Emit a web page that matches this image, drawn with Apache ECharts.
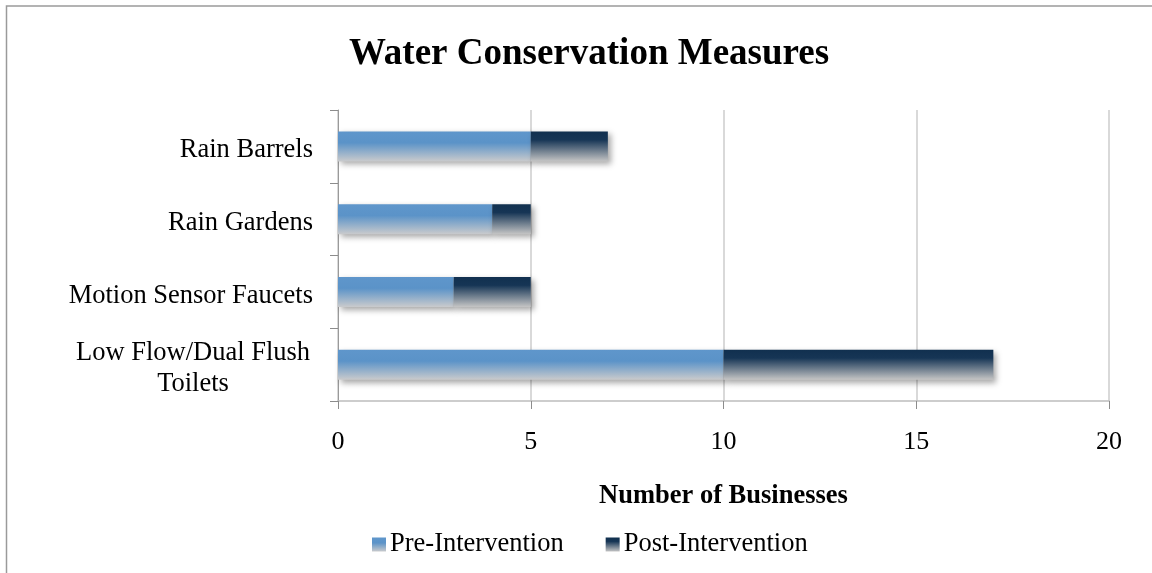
<!DOCTYPE html>
<html>
<head>
<meta charset="utf-8">
<script src="https://cdn.jsdelivr.net/npm/echarts@6/dist/echarts.min.js"></script>
<style>
  html, body { margin: 0; padding: 0; background: #fff; }
  #chart { width: 1152px; height: 573px; }
</style>
</head>
<body>
<div id="chart"></div>
<script>
// Measures, listed bottom to top as they appear on the category axis
const categories = [
  'Low Flow/Dual Flush\nToilets',
  'Motion Sensor Faucets',
  'Rain Gardens',
  'Rain Barrels'
];
const preIntervention = [10, 3, 4, 5];
const postIntervention = [7, 2, 1, 2];
const seriesNames = ['Pre-Intervention', 'Post-Intervention'];
const valueTicks = [0, 5, 10, 15, 20];

const FONT = "'Liberation Serif', 'Times New Roman', serif";

function fade(top, mid, bottom, midStop) {
  return new echarts.graphic.LinearGradient(0, 0, 0, 1, [
    { offset: 0, color: top },
    { offset: midStop, color: mid },
    { offset: 1, color: bottom }
  ]);
}

const preFill = fade('#5f96cb', '#5b93c8', '#c9cacc', 0.38);
const postFill = fade('#11304f', '#163555', '#c4c4c4', 0.28);

const barShadow = {
  shadowColor: 'rgba(0,0,0,0.35)',
  shadowBlur: 6,
  shadowOffsetX: 3,
  shadowOffsetY: 3
};

const chart = echarts.init(document.getElementById('chart'), null, { renderer: 'canvas' });

chart.setOption({
  animation: false,
  backgroundColor: '#ffffff',
  title: {
    text: 'Water Conservation Measures',
    left: 584,
    textAlign: 'center',
    top: 31,
    textStyle: { fontFamily: FONT, fontSize: 37, fontWeight: 'bold', color: '#000' }
  },
  legend: {
    left: 372,
    top: 531,
    padding: 0,
    itemWidth: 14,
    itemHeight: 14,
    itemGap: 42,
    icon: 'rect',
    textStyle: { fontFamily: FONT, fontSize: 26.5, color: '#000', padding: [0, 0, 0, -1] },
    data: seriesNames
  },
  grid: { left: 338, right: 43, top: 110, bottom: 172, containLabel: false },
  xAxis: {
    type: 'value',
    min: valueTicks[0],
    max: valueTicks[valueTicks.length - 1],
    interval: valueTicks[1] - valueTicks[0],
    name: 'Number of Businesses',
    nameLocation: 'middle',
    nameGap: 82,
    nameTextStyle: { fontFamily: FONT, fontSize: 26.5, fontWeight: 'bold', color: '#000' },
    axisLine: { show: true, lineStyle: { color: '#bdbdbd', width: 1.5 } },
    axisTick: { show: true, length: 8, lineStyle: { color: '#8c8c8c', width: 1 } },
    axisLabel: { margin: 28, fontFamily: FONT, fontSize: 26, color: '#000' },
    splitLine: { show: true, lineStyle: { color: '#cdcdcd', width: 1.5 } }
  },
  yAxis: {
    type: 'category',
    data: categories,
    axisLine: { show: true, lineStyle: { color: '#9a9a9a', width: 1 } },
    axisTick: { show: true, length: 8, lineStyle: { color: '#8c8c8c', width: 1 } },
    axisLabel: {
      margin: 25,
      fontFamily: FONT,
      fontSize: 26.5,
      color: '#000',
      padding: [8, 0, 0, 0],
      formatter: function (v) {
        return v.indexOf('\n') >= 0 ? '{c|' + v + '}' : v;
      },
      rich: {
        c: { align: 'center', width: 240, lineHeight: 31, fontFamily: FONT, fontSize: 26.5, color: '#000' }
      }
    }
  },
  graphic: [{
    type: 'rect',
    shape: { x: 6.5, y: 6, width: 1300, height: 700 },
    style: { fill: 'none', stroke: '#9a9a9a', lineWidth: 1.5 },
    silent: true,
    z: 0
  }],
  series: [
    {
      name: seriesNames[0],
      type: 'bar',
      stack: 'total',
      barWidth: 30,
      data: preIntervention,
      itemStyle: Object.assign({ color: preFill }, barShadow)
    },
    {
      name: seriesNames[1],
      type: 'bar',
      stack: 'total',
      barWidth: 30,
      data: postIntervention,
      itemStyle: Object.assign({ color: postFill }, barShadow)
    }
  ]
});
</script>
</body>
</html>
